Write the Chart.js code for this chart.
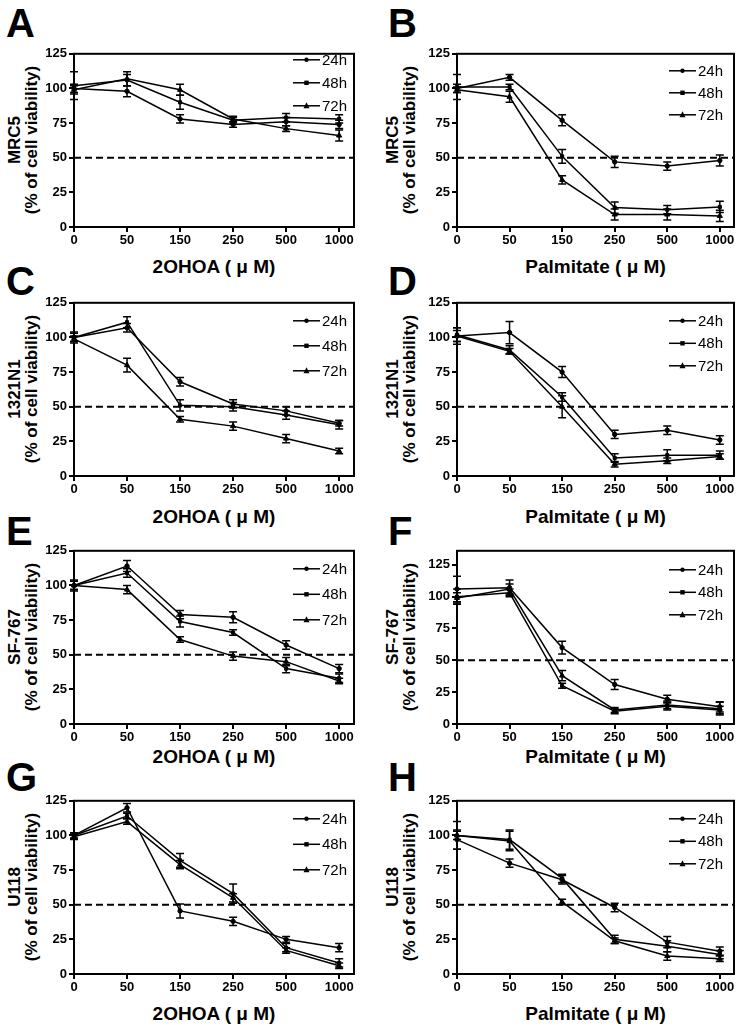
<!DOCTYPE html>
<html lang="en">
<head>
<meta charset="UTF-8">
<title>Cell viability panels</title>
<script src="https://cdn.jsdelivr.net/npm/chart.js"></script>
<style>
    *{margin:0;padding:0;box-sizing:border-box;}
    body{width:742px;height:1031px;background:#fff;position:relative;overflow:hidden;font-family:Arial,'Liberation Sans',sans-serif;color:#000;}
    canvas{position:absolute;}
    .letter{position:absolute;font-size:40px;font-weight:bold;line-height:40px;}
    .ytitle{position:absolute;font-size:17px;font-weight:bold;line-height:17px;text-align:center;white-space:nowrap;transform:translate(-50%,-50%) rotate(-90deg);}
    .xtitle{position:absolute;font-size:19px;font-weight:bold;white-space:nowrap;transform:translate(-50%,-50%);}
</style>
</head>
<body>
<script>
// ---- data ----
const doses = ['0', '50', '150', '250', '500', '1000'];
const times = ['24h', '48h', '72h'];
const yTickValues = [0, 25, 50, 75, 100, 125];
const cutoff = 50;

// A: MRC5 + 2OHOA
const a24 = [100, 98, 78, 74, 76, 74];
const a48 = [102, 106, 90, 77, 79, 78];
const a72 = [99, 107, 99, 78, 71, 66];
const a24Err = [3, 4, 3, 2, 3, 3];
const a48Err = [10, 4, 5, 2, 3, 3];
const a72Err = [3, 5, 4, 2, 2, 4];

// B: MRC5 + Palmitate
const b24 = [100, 108, 77, 47, 44, 48];
const b48 = [101, 101, 51, 14, 12.5, 14.5];
const b72 = [99, 94, 34, 9, 9, 8];
const b24Err = [3, 2, 4, 4, 3, 4];
const b48Err = [9, 2, 5, 4, 3, 4];
const b72Err = [2, 4, 3, 4, 4, 4];

// C: 1321N1 + 2OHOA
const c24 = [100, 107, 68, 52, 47, 38];
const c48 = [100, 111, 51, 50, 44, 37];
const c72 = [99, 80, 41, 36, 27, 18];
const c24Err = [3, 3, 3, 3, 3, 2];
const c48Err = [4, 4, 4, 3, 3, 3];
const c72Err = [2, 5, 2, 3, 3, 2];

// D: 1321N1 + Palmitate
const d24 = [101, 103.5, 75, 30, 33, 26];
const d48 = [102, 91, 57, 13, 15, 15];
const d72 = [101, 90, 50, 8.5, 11, 14];
const d24Err = [6, 8, 4, 3, 3, 3];
const d48Err = [5, 3, 3, 3, 4, 3];
const d72Err = [4, 2, 8, 2, 2, 2];

// E: SF-767 + 2OHOA
const e24 = [100, 114, 79, 77, 57, 40];
const e48 = [100, 109, 74, 66, 40, 33];
const e72 = [100, 97, 61, 49, 45, 31];
const e24Err = [3, 4, 3, 4, 3, 3];
const e48Err = [3, 3, 4, 2, 3, 3];
const e72Err = [4, 3, 2, 3, 3, 2];

// F: SF-767 + Palmitate
const f24 = [106, 107, 60, 31, 19.5, 13.5];
const f48 = [100, 103, 30, 10, 14, 11];
const f72 = [99, 106, 38, 11, 15, 12];
const f24Err = [10, 6, 5, 4, 3, 4];
const f48Err = [6, 3, 2, 2, 3, 3];
const f72Err = [4, 4, 4, 2, 3, 5];

// G: U118 + 2OHOA
const g24 = [100, 120, 45.5, 38, 25, 19];
const g48 = [100, 114, 82, 58, 19, 8];
const g72 = [99, 110, 79, 55, 17, 6];
const g24Err = [2, 3, 5, 3, 2, 3];
const g48Err = [2, 2, 5, 7, 3, 3];
const g72Err = [2, 2, 3, 3, 2, 2];

// H: U118 + Palmitate
const h24 = [97, 80, 68, 48, 23, 16.5];
const h48 = [100, 97, 69, 25, 20, 14];
const h72 = [100, 96, 52, 24, 13, 11];
const h24Err = [7, 3, 3, 3, 4, 3];
const h48Err = [10, 7, 3, 3, 4, 3];
const h72Err = [3, 7, 2, 2, 3, 2];

// ---- layout ----
const cols = [
    {left: 40, width: 320, padRight: 6, letterLeft: 6, yTitleX: 23, xMax: 5.28, lg: [-61, -34, -32]},
    {left: 423, width: 319, padRight: 8, letterLeft: 388, yTitleX: 401, xMax: 5.27, lg: [-65, -38, -36]}
];
const rows = [
    {plotTop: 52, letterTop: 3, xTitleY: 267},
    {plotTop: 301, letterTop: 261, xTitleY: 517},
    {plotTop: 549, letterTop: 511, xTitleY: 757},
    {plotTop: 799, letterTop: 757, xTitleY: 1014}
];
const plotH = 175, padTop = 8, xAxisH = 24, yAxisW = 34;

const panels = [
    {tag: 'A', cell: 'MRC5', drug: '2OHOA', col: 0, row: 0, yMax: 125, vals: [a24, a48, a72], errs: [a24Err, a48Err, a72Err], legTop: 6, legGap: 23},
    {tag: 'B', cell: 'MRC5', drug: 'Palmitate', col: 1, row: 0, yMax: 125, vals: [b24, b48, b72], errs: [b24Err, b48Err, b72Err], legTop: 17, legGap: 22},
    {tag: 'C', cell: '1321N1', drug: '2OHOA', col: 0, row: 1, yMax: 125, vals: [c24, c48, c72], errs: [c24Err, c48Err, c72Err], legTop: 18, legGap: 25},
    {tag: 'D', cell: '1321N1', drug: 'Palmitate', col: 1, row: 1, yMax: 125, vals: [d24, d48, d72], errs: [d24Err, d48Err, d72Err], legTop: 18, legGap: 22.5},
    {tag: 'E', cell: 'SF-767', drug: '2OHOA', col: 0, row: 2, yMax: 125, vals: [e24, e48, e72], errs: [e24Err, e48Err, e72Err], legTop: 18, legGap: 25.5},
    {tag: 'F', cell: 'SF-767', drug: 'Palmitate', col: 1, row: 2, yMax: 136, vals: [f24, f48, f72], errs: [f24Err, f48Err, f72Err], legTop: 19, legGap: 22.5},
    {tag: 'G', cell: 'U118', drug: '2OHOA', col: 0, row: 3, yMax: 125, vals: [g24, g48, g72], errs: [g24Err, g48Err, g72Err], legTop: 18, legGap: 25.5},
    {tag: 'H', cell: 'U118', drug: 'Palmitate', col: 1, row: 3, yMax: 125, vals: [h24, h48, h72], errs: [h24Err, h48Err, h72Err], legTop: 18, legGap: 22.5}
];

const markers = ['circle', 'rect', 'triangle'];
const markerSize = [2.2, 2.2, 3];

Chart.defaults.font.family = "Arial, 'Liberation Sans', sans-serif";
Chart.defaults.color = '#000';

// ---- plugins ----
function drawMarker(ctx, style, x, y, r){
    ctx.beginPath();
    if(style === 'circle'){ ctx.arc(x, y, r, 0, Math.PI * 2); }
    else if(style === 'rect'){ ctx.rect(x - r, y - r, r * 2, r * 2); }
    else { ctx.moveTo(x, y - r * 1.2); ctx.lineTo(x + r, y + r * 0.8); ctx.lineTo(x - r, y + r * 0.8); ctx.closePath(); }
    ctx.fill();
}

const errorBars = {
    id: 'errorBars',
    afterDatasetsDraw(chart){
        const ctx = chart.ctx, ys = chart.scales.y;
        chart.data.datasets.forEach((ds, i) => {
            if(!ds.errors) return;
            const meta = chart.getDatasetMeta(i);
            ctx.save();
            ctx.strokeStyle = '#000';
            ctx.lineWidth = 1.5;
            meta.data.forEach((pt, j) => {
                const v = ds.data[j].y, e = ds.errors[j];
                const t = ys.getPixelForValue(v + e), b = ys.getPixelForValue(v - e);
                ctx.beginPath();
                ctx.moveTo(pt.x, t); ctx.lineTo(pt.x, b);
                ctx.moveTo(pt.x - 4, t); ctx.lineTo(pt.x + 4, t);
                ctx.moveTo(pt.x - 4, b); ctx.lineTo(pt.x + 4, b);
                ctx.stroke();
            });
            ctx.restore();
        });
    }
};

const frame = {
    id: 'frame',
    afterDraw(chart){
        const a = chart.chartArea, ctx = chart.ctx;
        ctx.save();
        ctx.strokeStyle = '#000';
        ctx.lineWidth = 2;
        ctx.strokeRect(a.left, a.top, a.right - a.left, a.bottom - a.top);
        ctx.restore();
    }
};

const miniLegend = {
    id: 'miniLegend',
    afterDraw(chart, args, opts){
        const a = chart.chartArea, ctx = chart.ctx;
        ctx.save();
        ctx.strokeStyle = '#000';
        ctx.fillStyle = '#000';
        ctx.lineWidth = 1.5;
        ctx.font = "15px Arial, 'Liberation Sans', sans-serif";
        ctx.textBaseline = 'middle';
        times.forEach((t, i) => {
            const y = a.top + opts.top + i * opts.gap;
            const x0 = a.right + opts.x[0], x1 = a.right + opts.x[1];
            ctx.beginPath(); ctx.moveTo(x0, y); ctx.lineTo(x1, y); ctx.stroke();
            drawMarker(ctx, markers[i], (x0 + x1) / 2, y, markerSize[i]);
            ctx.fillText(t, a.right + opts.x[2], y + 1);
        });
        ctx.restore();
    }
};

// ---- build panels ----
panels.forEach(p => {
    const c = cols[p.col], r = rows[p.row];

    const letter = document.createElement('div');
    letter.className = 'letter';
    letter.textContent = p.tag;
    letter.style.left = c.letterLeft + 'px';
    letter.style.top = r.letterTop + 'px';
    document.body.appendChild(letter);

    const yt = document.createElement('div');
    yt.className = 'ytitle';
    yt.innerHTML = p.cell + '<br>(% of cell viability)';
    yt.style.left = c.yTitleX + 'px';
    yt.style.top = (r.plotTop + plotH / 2) + 'px';
    document.body.appendChild(yt);

    const xt = document.createElement('div');
    xt.className = 'xtitle';
    xt.textContent = p.drug + ' ( \u03bc M)';
    xt.style.left = (c.left + yAxisW + (c.width - yAxisW - c.padRight) / 2) + 'px';
    xt.style.top = r.xTitleY + 'px';
    document.body.appendChild(xt);

    const cv = document.createElement('canvas');
    cv.width = c.width;
    cv.height = padTop + plotH + xAxisH;
    cv.style.left = c.left + 'px';
    cv.style.top = (r.plotTop - padTop) + 'px';
    document.body.appendChild(cv);

    const datasets = [{
        data: [{x: 0, y: cutoff}, {x: c.xMax, y: cutoff}],
        borderColor: '#000', borderWidth: 2, borderDash: [7, 4],
        pointRadius: 0, clip: false
    }];
    p.vals.forEach((v, i) => {
        datasets.push({
            label: times[i],
            data: v.map((y, k) => ({x: k, y: y})),
            errors: p.errs[i],
            borderColor: '#000', backgroundColor: '#000', borderWidth: 1.5,
            pointStyle: markers[i], pointRadius: markerSize[i], pointBorderWidth: 1,
            clip: false
        });
    });

    new Chart(cv, {
        type: 'line',
        data: {datasets: datasets},
        options: {
            responsive: false, animation: false, devicePixelRatio: 1,
            layout: {padding: {top: padTop, right: c.padRight, left: 0, bottom: 0}},
            plugins: {
                legend: {display: false}, tooltip: {enabled: false},
                miniLegend: {top: p.legTop, gap: p.legGap, x: c.lg}
            },
            scales: {
                x: {
                    type: 'linear', min: 0, max: c.xMax,
                    afterBuildTicks: s => { s.ticks = doses.map((d, i) => ({value: i})); },
                    afterFit: s => { s.height = xAxisH; },
                    grid: {drawOnChartArea: false, tickLength: 5, color: '#000', lineWidth: 2},
                    border: {color: '#000', width: 2},
                    ticks: {callback: v => doses[v], font: {size: 13, weight: 'bold'}, padding: 1, maxRotation: 0, autoSkip: false}
                },
                y: {
                    min: 0, max: p.yMax,
                    afterBuildTicks: s => { s.ticks = yTickValues.map(v => ({value: v})); },
                    afterFit: s => { s.width = yAxisW; },
                    grid: {drawOnChartArea: false, tickLength: 5, color: '#000', lineWidth: 2},
                    border: {color: '#000', width: 2},
                    ticks: {font: {size: 13, weight: 'bold'}, padding: 2}
                }
            }
        },
        plugins: [errorBars, frame, miniLegend]
    });
});
</script>
</body>
</html>
